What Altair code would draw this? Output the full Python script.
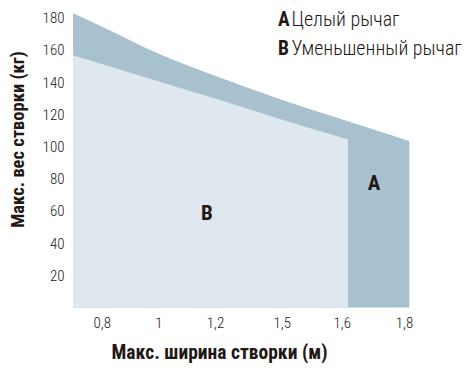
import altair as alt
import pandas as pd

# Series A: full lever (upper boundary)
a_x = [0.7, 0.8, 1.0, 1.2, 1.5, 1.6, 1.8, 1.82]
a_y = [182.8, 174.6, 157.7, 143.9, 129.0, 116.9, 104.5, 103.4]
# Series B: shortened lever (upper boundary)
b_x = [0.7, 1.0, 1.2, 1.5, 1.6, 1.62]
b_y = [156.7, 140.6, 129.8, 116.8, 105.6, 104.5]

x_ticks = [0.8, 1.0, 1.2, 1.5, 1.6, 1.8]
y_ticks = [20, 40, 60, 80, 100, 120, 140, 160, 180]

legend_keys = ["A", "B"]
legend_names = ["Целый рычаг", "Уменьшенный рычаг"]

x_title = "Макс. ширина створки (м)"
y_title = "Макс. вес створки (кг)"

FONT = "Roboto Condensed, Fira Sans Condensed, PT Sans Narrow, Open Sans Condensed, Ubuntu Condensed, Oswald, Noto Sans"
TXT = "#231815"
COL_A = "#a8c1ce"
COL_B = "#dfe8ee"

W, H = 336, 291

df_a = pd.DataFrame({"x": a_x, "y": a_y})
df_b = pd.DataFrame({"x": b_x, "y": b_y})

# piecewise x scale (the axis is not evenly spaced in the original)
x_scale = alt.Scale(
    domain=[0.7, 0.8, 1.0, 1.2, 1.5, 1.6, 1.8, 1.82],
    range=[0, 28.7, 85.3, 142, 208.7, 268.7, 331, 336.3],
    zero=False, nice=False,
)
y_scale = alt.Scale(domain=[4, 184.8], zero=False, nice=False)

x_axis = alt.Axis(
    values=x_ticks, labelExpr="replace(toString(datum.value), '.', ',')",
    domain=False, ticks=False, grid=False, labelOverlap=False,
    labelFont=FONT, labelFontSize=15, labelFontWeight=300, labelColor=TXT, labelPadding=14,
    title=x_title, titleFont=FONT, titleFontSize=19.5, titleFontWeight="bold",
    titleColor=TXT, titleX=146, titleY=42, titleAnchor="middle",
)
y_axis = alt.Axis(
    values=y_ticks, domain=False, ticks=False, grid=False, labelOverlap=False,
    labelFont=FONT, labelFontSize=15, labelFontWeight=300, labelColor=TXT, labelPadding=9,
    title=y_title, titleFont=FONT, titleFontSize=18.5, titleFontWeight="bold",
    titleColor=TXT, titleX=-46, titleY=129, titleAnchor="middle",
)

area_a = alt.Chart(df_a).mark_area(color=COL_A, interpolate="monotone").encode(
    x=alt.X("x:Q", scale=x_scale, axis=x_axis),
    y=alt.Y("y:Q", scale=y_scale, axis=y_axis),
)
area_b = alt.Chart(df_b).mark_area(color=COL_B, interpolate="monotone").encode(
    x=alt.X("x:Q", scale=x_scale, axis=x_axis),
    y=alt.Y("y:Q", scale=y_scale, axis=y_axis),
)

layers = [area_a, area_b]

# in-area labels
lbl_pos = {"A": (301, 174), "B": (134, 204)}
for k in legend_keys:
    px, py = lbl_pos[k]
    layers.append(
        alt.Chart(pd.DataFrame({"t": [k]})).mark_text(
            font=FONT, fontSize=21, fontWeight="bold", color=TXT,
            align="center", baseline="middle",
        ).encode(text="t:N", x=alt.value(px), y=alt.value(py))
    )

# legend text
leg_y = [10, 39]
for i, (k, name) in enumerate(zip(legend_keys, legend_names)):
    layers.append(
        alt.Chart(pd.DataFrame({"t": [k]})).mark_text(
            font=FONT, fontSize=19.5, fontWeight="bold", color=TXT,
            align="left", baseline="middle",
        ).encode(text="t:N", x=alt.value(205), y=alt.value(leg_y[i]))
    )
    layers.append(
        alt.Chart(pd.DataFrame({"t": [name]})).mark_text(
            font=FONT, fontSize=20, fontWeight=300, color=TXT,
            align="left", baseline="middle",
        ).encode(text="t:N", x=alt.value(218.5), y=alt.value(leg_y[i]))
    )

chart = alt.layer(*layers).properties(
    width=W, height=H,
    autosize=alt.AutoSizeParams(type="none"),
    padding={"left": 65, "top": 2, "right": 53, "bottom": 63},
    background="white",
).configure_view(stroke=None).configure_axis(labelOverlap=False)

chart.save("out.html", embed_options={"renderer": "svg", "actions": False})
